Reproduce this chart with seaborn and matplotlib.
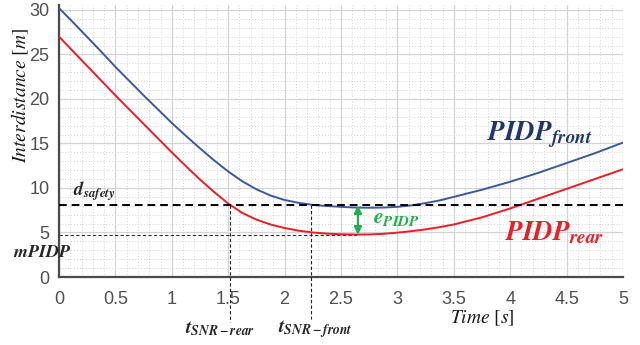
import matplotlib
matplotlib.use("Agg")
import matplotlib.pyplot as plt
import pandas as pd
import seaborn as sns
from matplotlib.ticker import MultipleLocator

# 1. Data
time_s = [0, 0.125, 0.25, 0.375, 0.5, 0.625, 0.75, 0.875, 1.0, 1.125,
          1.25, 1.375, 1.5, 1.625, 1.75, 1.875, 2.0, 2.125, 2.25, 2.375,
          2.5, 2.625, 2.75, 2.875, 3.0, 3.125, 3.25, 3.375, 3.5, 3.625,
          3.75, 3.875, 4.0, 4.125, 4.25, 4.375, 4.5, 4.625, 4.75, 4.875, 5.0]
pidp_front = [30.2, 28.6, 26.95, 25.3, 23.6, 22.0, 20.4, 18.85, 17.3, 15.85,
              14.45, 13.1, 11.85, 10.75, 9.85, 9.15, 8.65, 8.33, 8.1, 7.97,
              7.88, 7.8, 7.78, 7.8, 7.88, 8.05, 8.3, 8.6, 9.0, 9.4,
              9.8, 10.25, 10.7, 11.2, 11.7, 12.25, 12.8, 13.35, 13.9, 14.5, 15.1]
pidp_rear = [27.0, 25.35, 23.7, 22.05, 20.4, 18.8, 17.2, 15.6, 14.0, 12.45,
             10.95, 9.55, 8.25, 7.2, 6.45, 5.9, 5.5, 5.2, 5.0, 4.87,
             4.8, 4.77, 4.78, 4.85, 4.98, 5.15, 5.35, 5.6, 5.9, 6.3,
             6.7, 7.2, 7.7, 8.25, 8.8, 9.35, 9.9, 10.45, 11.0, 11.55, 12.1]

d_safety = 8.1
m_pidp = 4.7
t_snr_rear = 1.52
t_snr_front = 2.23
t_min_rear = 2.65

df = pd.DataFrame({'t': time_s * 2,
                   'd': pidp_front + pidp_rear,
                   'curve': ['front'] * len(time_s) + ['rear'] * len(time_s)})

# 2. Style
sns.set_style("white")
plt.rcParams['font.family'] = ['Liberation Sans', 'DejaVu Sans']
plt.rcParams['mathtext.fontset'] = 'stix'

blue = '#3b5a9a'
red = '#ee1c25'
navy = '#1f3768'
green = '#1db04c'

fig = plt.figure(figsize=(6.4, 3.45), dpi=100)
ax = fig.add_axes([59 / 640, 1 - 277 / 345, 564 / 640, 272 / 345])

sns.lineplot(data=df, x='t', y='d', hue='curve', palette={'front': blue, 'rear': red},
             lw=1.4, legend=False, ax=ax, zorder=4)

ax.set_xlim(0, 5)
ax.set_ylim(0, 30.55)
ax.xaxis.set_major_locator(MultipleLocator(0.5))
ax.xaxis.set_minor_locator(MultipleLocator(0.1))
ax.yaxis.set_major_locator(MultipleLocator(5))
ax.yaxis.set_minor_locator(MultipleLocator(1))
ax.set_xticks([0, 0.5, 1, 1.5, 2, 2.5, 3, 3.5, 4, 4.5, 5],
              ['0', '0.5', '1', '1.5', '2', '2.5', '3', '3.5', '4', '4.5', '5'])
ax.grid(which='major', color='#d4d4d4', lw=0.9)
ax.grid(which='minor', color='#d4d4d4', lw=0.7, ls=(0, (1, 2)))
ax.set_axisbelow(True)

for s in ['top', 'right']:
    ax.spines[s].set_visible(False)
for s in ['left', 'bottom']:
    ax.spines[s].set_color('#4a4a4a')
    ax.spines[s].set_linewidth(1.6)
ax.tick_params(which='major', direction='in', length=4, width=1, color='#4a4a4a',
               labelsize=13, labelcolor='#505050')
ax.tick_params(axis='x', pad=10)
ax.tick_params(axis='y', pad=7)
ax.tick_params(which='minor', length=0)
ax.set_xlabel('')
ax.set_ylabel('')

# 3. Reference lines
ax.axhline(d_safety, color='black', lw=1.4, ls=(0, (4, 2.5)), zorder=5)
ax.plot([0, t_min_rear], [m_pidp, m_pidp], color='#333333', lw=0.8, ls=(0, (3, 2)), zorder=3)
ax.plot([t_snr_rear, t_snr_rear], [d_safety, -5.1], color='#222222', lw=0.8,
        ls=(0, (3, 2)), clip_on=False, zorder=3)
ax.plot([t_snr_front, t_snr_front], [d_safety, -4.7], color='#222222', lw=0.8,
        ls=(0, (3, 2)), clip_on=False, zorder=3)

# green double arrow e_PIDP
ax.annotate('', xy=(t_min_rear, m_pidp + 0.05), xytext=(t_min_rear, d_safety - 0.05),
            arrowprops=dict(arrowstyle='<|-|>', color=green, lw=1.6,
                            mutation_scale=11, shrinkA=0, shrinkB=0), zorder=6)

# 4. Annotations
ax.text(0.12, 9.6, r'$\mathbfit{d_{safety}}$', fontsize=13.5, va='center', ha='left')
ax.text(-0.41, 2.8, r'$\mathbfit{mPIDP}$', fontsize=13, va='center', ha='left', clip_on=False)
ax.text(1.43, -5.8, r'$\mathbfit{t_{SNR-rear}}$', fontsize=14, va='center', ha='center', clip_on=False)
ax.text(2.27, -5.8, r'$\mathbfit{t_{SNR-front}}$', fontsize=14, va='center', ha='center', clip_on=False)
ax.text(3.79, 15.4, r'$\mathbfit{PIDP_{front}}$', fontsize=19.5, color=navy, va='baseline', ha='left')
ax.text(3.95, 4.15, r'$\mathbfit{PIDP_{rear}}$', fontsize=19.5, color=red, va='baseline', ha='left')
ax.text(2.78, 6.1, r'$\mathbfit{e_{PIDP}}$', fontsize=15.5, color=green, va='baseline', ha='left')

ax.text(3.75, -4.6, r'$Time\ [s]$', fontsize=14, color='#1a1a1a', va='center', ha='center', clip_on=False)
fig.text(20 / 640, 1 - 95 / 345, r'$Interdistance\ [m]$', fontsize=14, color='#1a1a1a',
         rotation=90, va='center', ha='center')

fig.savefig('out.png', dpi=100)
